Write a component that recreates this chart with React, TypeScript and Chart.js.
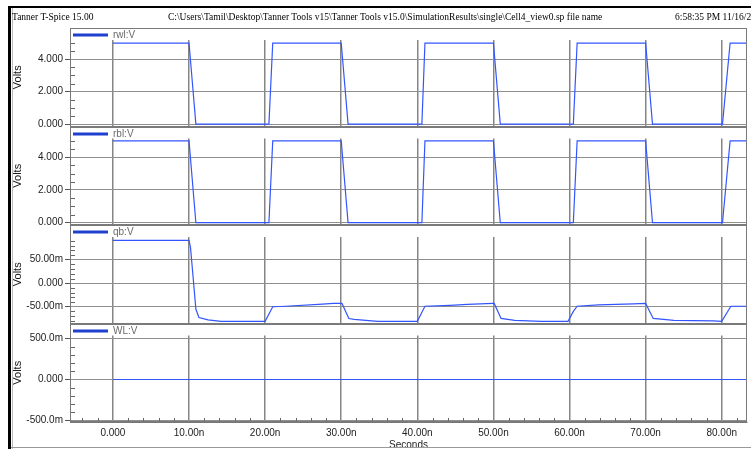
import React, { useEffect, useRef } from "react";
import { Chart, registerables } from "chart.js";
Chart.register(...registerables);

// ---------- data (time in ns, values in volts) ----------
const rwlTime = [0, 10.0, 10.9, 20.5, 21.0, 30.0, 30.9, 40.6, 41.0, 50.0, 50.9, 60.5, 61.0, 70.0, 70.9, 80.1, 81.1, 84];
const rwlVolt = [5, 5, 0, 0, 5, 5, 0, 0, 5, 5, 0, 0, 5, 5, 0, 0, 5, 5];

const rblTime = [0, 10.0, 10.9, 20.5, 21.0, 30.0, 30.9, 40.6, 41.0, 50.0, 50.9, 60.5, 61.0, 70.0, 70.9, 80.1, 81.1, 84];
const rblVolt = [5, 5, 0, 0, 5, 5, 0, 0, 5, 5, 0, 0, 5, 5, 0, 0, 5, 5];

const qbTime = [0, 10.0, 10.2, 10.9, 11.3, 12.5, 14.2, 20.0, 21.0, 22.7, 27.0, 29.0, 30.1, 31.0, 31.7, 34.8, 40.0, 41.0, 44.3, 46.6, 49.9, 50.1, 51.0, 52.8, 56.3, 59.8, 60.5, 61.0, 63.8, 68.4, 70.0, 71.0, 73.7, 78.9, 80.0, 81.2, 84];
const qbVolt = [0.091, 0.091, 0.075, -0.055, -0.073, -0.078, -0.081, -0.081, -0.05, -0.049, -0.045, -0.043, -0.043, -0.075, -0.077, -0.081, -0.081, -0.049, -0.047, -0.045, -0.043, -0.043, -0.075, -0.079, -0.081, -0.081, -0.06, -0.049, -0.046, -0.044, -0.043, -0.075, -0.079, -0.08, -0.081, -0.049, -0.049];

const wlTime = [0, 84];
const wlVolt = [0, 0];

// ---------- ticks ----------
const xMajorTicks = [0, 10, 20, 30, 40, 50, 60, 70, 80];
const xMajorLabels = ["0.000", "10.00n", "20.00n", "30.00n", "40.00n", "50.00n", "60.00n", "70.00n", "80.00n"];
const xMinorStep = 2;

const voltMajorTicks = [0, 2, 4];
const voltMajorLabels = ["0.000", "2.000", "4.000"];
const voltMinorStep = 0.5;

const qbMajorTicks = [-0.05, 0, 0.05];
const qbMajorLabels = ["-50.00m", "0.000", "50.00m"];
const qbMinorStep = 0.01;

const wlMajorTicks = [-0.5, 0, 0.5];
const wlMajorLabels = ["-500.0m", "0.000", "500.0m"];
const wlMinorStep = 0.1;

const X_MIN = -5.64;
const X_MAX = 83.32;

type TickObj = { value: number; mj: boolean; lab: string };

function makeTicks(min: number, max: number, majors: number[], labels: string[], step: number): TickObj[] {
  const out: TickObj[] = [];
  const start = Math.ceil(min / step - 1e-9);
  const end = Math.floor(max / step + 1e-9);
  for (let k = start; k <= end; k++) {
    const v = +(k * step).toFixed(6);
    const idx = majors.findIndex((m) => Math.abs(m - v) < step * 1e-3);
    out.push({ value: v, mj: idx >= 0, lab: idx >= 0 ? labels[idx] : "" });
  }
  return out;
}

const panels = [
  { id: "y1", label: "rwl:V", t: rwlTime, v: rwlVolt, min: -0.15, max: 5.93, majors: voltMajorTicks, labels: voltMajorLabels, step: voltMinorStep },
  { id: "y2", label: "rbl:V", t: rblTime, v: rblVolt, min: -0.14, max: 5.88, majors: voltMajorTicks, labels: voltMajorLabels, step: voltMinorStep },
  { id: "y3", label: "qb:V", t: qbTime, v: qbVolt, min: -0.0857, max: 0.1238, majors: qbMajorTicks, labels: qbMajorLabels, step: qbMinorStep },
  { id: "y4", label: "WL:V", t: wlTime, v: wlVolt, min: -0.518, max: 0.683, majors: wlMajorTicks, labels: wlMajorLabels, step: wlMinorStep },
];

const TRANSPARENT = "rgba(0,0,0,0)";
const FONT = '"Liberation Sans", Arial, sans-serif';

const decorPlugin = {
  id: "panelDecor",
  beforeDatasetsDraw(chart: any) {
    const { ctx, chartArea } = chart;
    ctx.save();
    ctx.strokeStyle = "#666";
    ctx.lineWidth = 1;
    for (const p of panels) {
      const s = chart.scales[p.id];
      for (const t of s.ticks as TickObj[]) {
        if (t.mj) continue;
        const y = Math.round(s.getPixelForValue(t.value)) + 0.5;
        ctx.beginPath();
        ctx.moveTo(chartArea.left, y);
        ctx.lineTo(chartArea.left + 5, y);
        ctx.stroke();
      }
    }
    const xs = chart.scales.x;
    for (const t of xs.ticks as TickObj[]) {
      if (t.mj) continue;
      const x = Math.round(xs.getPixelForValue(t.value)) + 0.5;
      ctx.beginPath();
      ctx.moveTo(x, chartArea.bottom);
      ctx.lineTo(x, chartArea.bottom - 4);
      ctx.stroke();
    }
    ctx.fillStyle = "#fff";
    for (const p of panels) {
      const s = chart.scales[p.id];
      ctx.fillRect(chartArea.left + 1, s.top, chartArea.right - chartArea.left - 1, 12);
    }
    ctx.restore();
  },
  afterDatasetsDraw(chart: any) {
    const { ctx, chartArea } = chart;
    ctx.save();
    ctx.strokeStyle = "#7a7a7a";
    ctx.lineWidth = 1;
    for (const p of panels) {
      const s = chart.scales[p.id];
      const top = Math.round(s.top);
      const bottom = Math.round(s.bottom);
      ctx.strokeRect(chartArea.left + 0.5, top + 0.5, chartArea.right - chartArea.left - 1, bottom - top - 1);
    }
    chart.data.datasets.forEach((ds: any) => {
      const s = chart.scales[ds.yAxisID];
      const y = Math.round(s.top) + 7;
      ctx.strokeStyle = "#1f3fcf";
      ctx.lineWidth = 3;
      ctx.beginPath();
      ctx.moveTo(chartArea.left + 3, y);
      ctx.lineTo(chartArea.left + 38, y);
      ctx.stroke();
      ctx.fillStyle = "#6a6a6a";
      ctx.font = "10px " + FONT;
      ctx.textBaseline = "middle";
      ctx.textAlign = "left";
      ctx.fillText(ds.label, chartArea.left + 43, y);
    });
    ctx.restore();
  },
};

function buildConfig(): any {
  const scales: any = {
    x: {
      type: "linear",
      position: "bottom",
      min: X_MIN,
      max: X_MAX,
      afterBuildTicks: (s: any) => {
        s.ticks = makeTicks(X_MIN, X_MAX, xMajorTicks, xMajorLabels, xMinorStep);
      },
      afterFit: (s: any) => {
        s.height = 27;
      },
      grid: {
        color: (c: any) => (c.tick && c.tick.mj ? "#858585" : TRANSPARENT),
        lineWidth: 1.5,
        drawTicks: false,
      },
      border: { display: true, color: "#777", width: 1 },
      ticks: {
        autoSkip: false,
        maxRotation: 0,
        padding: 5,
        color: "#222",
        font: { size: 10, family: FONT },
        callback: (_v: any, i: number, ts: any[]) => ts[i].lab || "",
      },
      title: {
        display: true,
        text: "Seconds",
        color: "#222",
        font: { size: 10, family: FONT, lineHeight: 0.8 },
        padding: 0,
      },
    },
  };
  panels.forEach((p, i) => {
    scales[p.id] = {
      type: "linear",
      position: "left",
      stack: "panels",
      stackWeight: 1,
      weight: 4 - i,
      min: p.min,
      max: p.max,
      afterBuildTicks: (s: any) => {
        s.ticks = makeTicks(p.min, p.max, p.majors, p.labels, p.step);
      },
      afterFit: (s: any) => {
        s.width = 59;
      },
      grid: {
        color: (c: any) => (c.tick && c.tick.mj ? "#909090" : TRANSPARENT),
        lineWidth: 1,
        drawTicks: true,
        tickLength: 5,
        tickColor: (c: any) => (c.tick && c.tick.mj ? "#555" : TRANSPARENT),
      },
      border: { display: true, color: "#777", width: 1 },
      ticks: {
        autoSkip: false,
        padding: 2,
        color: "#222",
        font: { size: 10, family: FONT },
        callback: (_v: any, idx: number, ts: any[]) => ts[idx].lab || "",
      },
      title: {
        display: true,
        text: "Volts",
        color: "#111",
        font: { size: 11, family: FONT },
        padding: 0,
      },
    };
  });

  return {
    type: "line",
    data: {
      datasets: panels.map((p) => ({
        label: p.label,
        yAxisID: p.id,
        xAxisID: "x",
        data: p.t.map((t, k) => ({ x: t, y: p.v[k] })),
        borderColor: "#3355ff",
        borderWidth: 1.2,
        pointRadius: 0,
        fill: false,
        tension: 0,
      })),
    },
    options: {
      responsive: false,
      animation: false,
      devicePixelRatio: 1,
      layout: { padding: { left: 11, top: 28, right: 4, bottom: 0 } },
      plugins: { legend: { display: false }, tooltip: { enabled: false } },
      scales,
    },
    plugins: [decorPlugin],
  };
}

const headerStyle: React.CSSProperties = {
  position: "absolute",
  top: 11,
  height: 12,
  lineHeight: "12px",
  fontFamily: '"Liberation Serif", "Times New Roman", serif',
  fontSize: 9.5,
  color: "#000",
  whiteSpace: "nowrap",
};

export default function App() {
  const ref = useRef<HTMLCanvasElement>(null);
  useEffect(() => {
    const chart = new Chart(ref.current as HTMLCanvasElement, buildConfig());
    return () => chart.destroy();
  }, []);
  return (
    <div style={{ position: "fixed", left: 0, top: 0, width: 751, height: 449, background: "#fff", overflow: "hidden" }}>
      <canvas ref={ref} width={751} height={449} style={{ position: "absolute", left: 0, top: 0, width: 751, height: 449 }} />
      <div style={{ position: "absolute", left: 10, top: 6, width: 741, height: 2, background: "#000" }} />
      <div style={{ position: "absolute", left: 8, top: 6, width: 3, height: 443, background: "#000" }} />
      <div style={{ position: "absolute", left: 12, top: 8, width: 1, height: 441, background: "#bbb" }} />
      <div style={{ position: "absolute", left: 11, top: 447, width: 740, height: 1, background: "#999" }} />
      <div style={{ ...headerStyle, left: 12 }}>Tanner T-Spice 15.00</div>
      <div style={{ ...headerStyle, left: 168 }}>
        {"C:\\Users\\Tamil\\Desktop\\Tanner Tools v15\\Tanner Tools v15.0\\SimulationResults\\single\\Cell4_view0.sp file name"}
      </div>
      <div style={{ ...headerStyle, left: 675 }}>6:58:35 PM 11/16/2</div>
    </div>
  );
}
